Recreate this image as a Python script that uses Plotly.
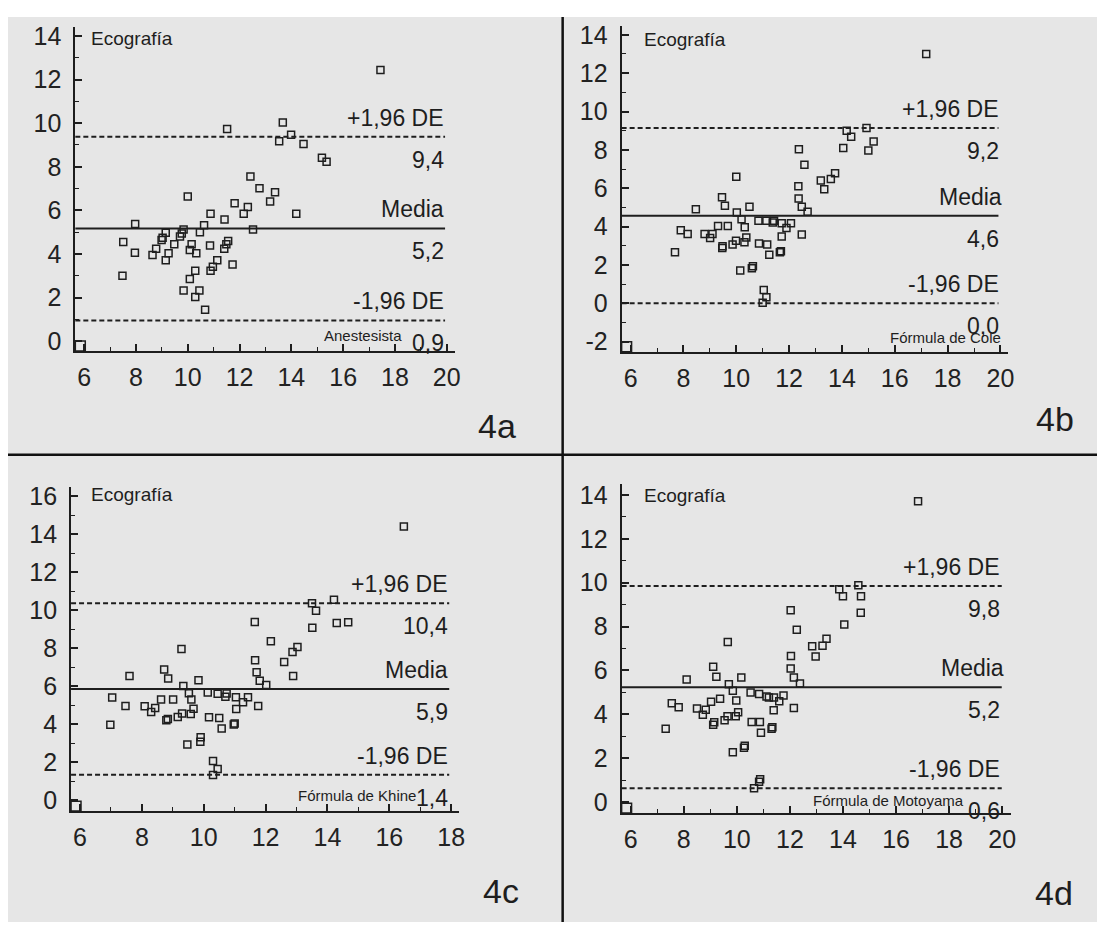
import plotly.graph_objects as go

# ---------------- data ----------------
a_x = [17.44, 13.67, 11.52, 13.99, 13.53, 14.47, 15.18, 15.36, 12.42, 12.77, 13.37, 13.18, 10.0, 11.81,
       12.32, 12.16, 14.19, 10.88, 11.42, 7.97, 10.63, 9.84, 10.47, 12.52, 9.15, 9.77, 9.03, 9.7, 7.51,
       8.99, 9.48, 11.56, 11.49, 10.86, 10.15, 8.78, 11.41, 10.08, 7.96, 8.64, 9.26, 10.33, 11.14, 9.15,
       11.73, 10.97, 10.29, 10.88, 7.48, 10.08, 9.84, 10.45, 10.29, 10.67]
a_y = [12.44, 10.03, 9.73, 9.47, 9.17, 9.05, 8.42, 8.23, 7.55, 7.02, 6.83, 6.41, 6.64, 6.33,
       6.15, 5.85, 5.85, 5.85, 5.58, 5.38, 5.32, 5.12, 5.0, 5.12, 4.97, 4.94, 4.74, 4.8, 4.55,
       4.64, 4.44, 4.59, 4.44, 4.39, 4.44, 4.24, 4.24, 4.18, 4.05, 3.95, 4.03, 4.03, 3.71, 3.71,
       3.52, 3.41, 3.23, 3.23, 3.0, 2.85, 2.32, 2.32, 2.03, 1.44]

b_x = [17.19, 14.93, 14.18, 14.35, 15.2, 14.05, 12.37, 15.0, 12.58, 10.0, 13.74, 13.58, 13.2, 13.33,
       12.35, 9.46, 12.36, 9.57, 10.5, 12.48, 8.47, 12.7, 10.02, 10.2, 10.84, 11.14, 11.43, 11.38,
       11.72, 12.07, 11.9, 9.31, 9.68, 10.32, 7.9, 8.16, 8.8, 9.1, 9.01, 11.72, 12.48, 10.38, 9.99,
       10.31, 9.86, 10.86, 11.17, 9.48, 9.47, 7.68, 11.25, 11.69, 11.65, 10.63, 10.59, 10.15, 11.04,
       11.14, 11.0]
b_y = [13.0, 9.14, 9.0, 8.69, 8.43, 8.1, 8.03, 7.97, 7.22, 6.6, 6.78, 6.48, 6.4, 5.95,
       6.1, 5.53, 5.47, 5.09, 5.03, 5.03, 4.91, 4.78, 4.74, 4.38, 4.31, 4.31, 4.31, 4.21,
       4.17, 4.17, 3.93, 4.03, 4.03, 3.97, 3.81, 3.62, 3.62, 3.62, 3.4, 3.48, 3.59, 3.43, 3.26,
       3.19, 3.07, 3.12, 3.07, 2.97, 2.88, 2.66, 2.53, 2.71, 2.66, 1.93, 1.83, 1.71, 0.69,
       0.31, 0.03]

c_x = [16.47, 14.21, 13.5, 13.63, 13.51, 14.3, 14.67, 11.65, 12.17, 13.03, 12.87, 12.6, 9.28, 11.66,
       11.71, 12.89, 7.6, 8.72, 8.85, 11.81, 12.02, 9.83, 9.34, 9.52, 10.13, 10.45, 10.74, 10.7,
       11.04, 11.43, 11.27, 9.6, 7.04, 9.01, 8.62, 11.05, 9.67, 7.47, 8.09, 8.43, 8.3, 11.76, 9.3,
       9.58, 9.16, 10.17, 10.5, 8.79, 8.84, 6.98, 10.97, 11.0, 10.58, 9.9, 9.89, 9.47, 10.3, 10.45,
       10.3]
c_y = [14.41, 10.56, 10.38, 9.98, 9.08, 9.34, 9.38, 9.39, 8.37, 8.07, 7.81, 7.29, 7.97, 7.38,
       6.74, 6.55, 6.55, 6.89, 6.42, 6.3, 6.08, 6.32, 6.02, 5.64, 5.68, 5.61, 5.63, 5.45,
       5.43, 5.43, 5.16, 5.31, 5.42, 5.31, 5.31, 4.81, 4.83, 4.97, 4.95, 4.86, 4.65, 4.97, 4.58,
       4.55, 4.39, 4.38, 4.34, 4.22, 4.29, 3.98, 3.99, 4.05, 3.78, 3.33, 3.09, 2.95, 2.08, 1.65,
       1.34]

d_x = [16.83, 14.58, 13.86, 14.0, 14.68, 14.67, 14.05, 12.03, 12.26, 9.66, 13.38, 12.84, 13.23, 12.97,
       12.04, 9.11, 12.03, 9.23, 10.17, 8.11, 12.15, 12.38, 9.7, 9.85, 10.52, 10.84, 11.12, 11.21,
       11.4, 11.76, 11.6, 7.55, 7.81, 9.37, 9.03, 9.98, 8.5, 8.83, 8.72, 10.05, 9.65, 9.96, 11.39,
       12.15, 9.54, 10.56, 10.87, 9.15, 9.11, 7.32, 11.34, 11.31, 10.91, 9.85, 10.3, 10.27, 10.88,
       10.84, 10.65]
d_y = [13.71, 9.88, 9.7, 9.38, 9.38, 8.63, 8.09, 8.74, 7.85, 7.29, 7.44, 7.1, 7.13, 6.63,
       6.66, 6.17, 6.09, 5.71, 5.68, 5.59, 5.68, 5.41, 5.37, 5.07, 4.99, 4.93, 4.81, 4.77,
       4.77, 4.86, 4.59, 4.5, 4.32, 4.71, 4.57, 4.63, 4.26, 4.21, 3.98, 4.09, 3.91, 3.91, 4.18,
       4.29, 3.73, 3.65, 3.65, 3.64, 3.53, 3.34, 3.41, 3.34, 3.16, 2.27, 2.57, 2.48, 1.04,
       0.93, 0.63]

# upper limit, mean, lower limit (as drawn) and their printed labels
a_lines = [9.38, 5.17, 0.95]
b_lines = [9.14, 4.57, 0.0]
c_lines = [10.38, 5.87, 1.35]
d_lines = [9.85, 5.23, 0.63]
a_vals = ["9,4", "5,2", "0,9"]
b_vals = ["9,2", "4,6", "0,0"]
c_vals = ["10,4", "5,9", "1,4"]
d_vals = ["9,8", "5,2", "0,6"]
line_names = ["+1,96 DE", "Media", "-1,96 DE"]
method_names = ["Anestesista", "Fórmula de Cole", "Fórmula de Khine", "Fórmula de Motoyama"]
panel_tags = ["4a", "4b", "4c", "4d"]
y_title = "Ecografía"

x_ticks_a = [6, 8, 10, 12, 14, 16, 18, 20]
x_ticks_c = [6, 8, 10, 12, 14, 16, 18]
y_ticks_a = [0, 2, 4, 6, 8, 10, 12, 14]
y_ticks_b = [-2, 0, 2, 4, 6, 8, 10, 12, 14]
y_ticks_c = [0, 2, 4, 6, 8, 10, 12, 14, 16]
y_ticks_d = [0, 2, 4, 6, 8, 10, 12, 14]

# ---------------- layout helpers ----------------
PAGE_W, PAGE_H = 1105, 926
OFF = 8  # browser body margin
W, H = PAGE_W - OFF, PAGE_H - OFF


def px_x(p):
    return (p - OFF) / W


def px_y(p):
    return 1 - (p - OFF) / H


# pixel boxes (page coords) of each plot area: (left, right, top, bottom)
boxes = [(75.7, 457, 22, 349.3), (625, 1013.6, 20.7, 350), (71.4, 461.4, 486.7, 814), (625, 1017, 484, 816)]
xranges = [[5.66, 20.3], [5.66, 20.29], [5.71, 18.25], [5.66, 20.35]]
yranges = [[-0.45, 14.42], [-2.52, 14.48], [-0.56, 16.49], [-0.5, 14.48]]

FONT = "Liberation Sans, Arial, sans-serif"
INK = "#1e1e1e"

fig = go.Figure()

xs = [a_x, b_x, c_x, d_x]
ys = [a_y, b_y, c_y, d_y]
lines = [a_lines, b_lines, c_lines, d_lines]
vals = [a_vals, b_vals, c_vals, d_vals]
xticks = [x_ticks_a, x_ticks_a, x_ticks_c, x_ticks_a]
yticks = [y_ticks_a, y_ticks_b, y_ticks_c, y_ticks_d]

shapes = []
annotations = []

# gray background and divider lines
shapes.append(dict(type="rect", xref="paper", yref="paper", x0=0, x1=1, y0=0, y1=px_y(12),
                   fillcolor="#e6e6e6", line=dict(width=0), layer="below"))
shapes.append(dict(type="line", xref="paper", yref="paper", x0=0, x1=1, y0=px_y(454), y1=px_y(454),
                   line=dict(color="#111", width=2.5)))
shapes.append(dict(type="line", xref="paper", yref="paper", x0=px_x(565.7), x1=px_x(565.7), y0=0, y1=px_y(12),
                   line=dict(color="#111", width=2.5)))

lbl_x = [0.978, 0.982, 0.978, 0.976]
media_x = [0.978, 0.99, 0.978, 0.985]
method_pos = [(0.866, 0.047), (0.988, 0.044), (0.895, 0.047), (0.884, 0.038)]
eco_pos = [(0.035, 0.963), (0.053, 0.957), (0.045, 0.976), (0.053, 0.967)]
tag_pos = [(521, 425), (1082, 418), (524, 895), (1081, 897)]

for i in range(4):
    n = "" if i == 0 else str(i + 1)
    xa, ya = "x" + n, "y" + n
    l, r, t, b = boxes[i]
    axis_common = dict(showline=True, linecolor=INK, linewidth=2, ticks="inside", ticklen=7, tickwidth=1.5,
                       tickcolor=INK, showgrid=False, zeroline=False,
                       tickfont=dict(family=FONT, size=25, color="#222"),
                       minor=dict(ticks="inside", ticklen=4, tickwidth=1.3, tickcolor=INK, dtick=1, showgrid=False),
                       fixedrange=True)
    fig.layout["xaxis" + n] = dict(axis_common, domain=[px_x(l), px_x(r)], range=xranges[i], anchor=ya,
                                   tickvals=xticks[i], ticktext=[str(v) for v in xticks[i]],
                                   ticklabelstandoff=3)
    fig.layout["yaxis" + n] = dict(axis_common, domain=[px_y(b), px_y(t)], range=yranges[i], anchor=xa,
                                   tickvals=yticks[i], ticktext=[str(v) for v in yticks[i]],
                                   ticklabelstandoff=7)

    fig.add_trace(go.Scatter(x=xs[i], y=ys[i], mode="markers", xaxis=xa, yaxis=ya, showlegend=False,
                             marker=dict(symbol="square-open", size=7, color=INK, line=dict(width=1.5, color=INK))))

    xd = xa + " domain"
    yd = ya + " domain"
    for k, yv in enumerate(lines[i]):
        shapes.append(dict(type="line", xref=xd, yref=ya, x0=0, x1=0.975, y0=yv, y1=yv,
                           line=dict(color=INK, width=2, dash="solid" if k == 1 else "5px,3px")))
        annotations.append(dict(xref=xd, yref=ya, x=media_x[i] if k == 1 else lbl_x[i], y=yv,
                                text=line_names[k], showarrow=False, xanchor="right", yanchor="bottom",
                                yshift=4, font=dict(family=FONT, size=23, color=INK)))
        annotations.append(dict(xref=xd, yref=ya, x=lbl_x[i], y=yv, text=vals[i][k], showarrow=False,
                                xanchor="right", yanchor="top", yshift=-8,
                                font=dict(family=FONT, size=23, color=INK)))
    # small corner box
    shapes.append(dict(type="rect", xref=xd, yref=yd, x0=0, x1=10 / (r - l), y0=0, y1=10 / (b - t),
                       line=dict(color=INK, width=1.5), fillcolor="rgba(0,0,0,0)"))
    annotations.append(dict(xref=xd, yref=yd, x=method_pos[i][0], y=method_pos[i][1], text=method_names[i],
                            showarrow=False, xanchor="right", yanchor="middle",
                            font=dict(family=FONT, size=15, color=INK)))
    annotations.append(dict(xref=xd, yref=yd, x=eco_pos[i][0], y=eco_pos[i][1], text=y_title,
                            showarrow=False, xanchor="left", yanchor="middle",
                            font=dict(family=FONT, size=19, color=INK)))
    annotations.append(dict(xref="paper", yref="paper", x=px_x(tag_pos[i][0]), y=px_y(tag_pos[i][1]),
                            text=panel_tags[i], showarrow=False, xanchor="right", yanchor="middle",
                            font=dict(family=FONT, size=34, color=INK)))

fig.update_layout(width=W, height=H, margin=dict(l=0, r=0, t=0, b=0, pad=0),
                  paper_bgcolor="white", plot_bgcolor="rgba(0,0,0,0)",
                  shapes=shapes, annotations=annotations, showlegend=False)

fig.write_html("out.html")
